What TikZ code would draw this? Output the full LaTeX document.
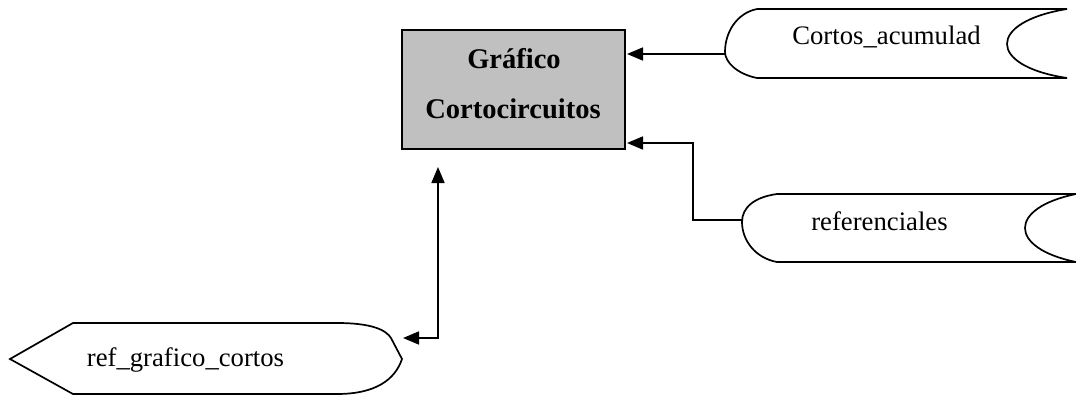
\documentclass[tikz,border=0pt]{standalone}
\usepackage{fontspec}
\setmainfont{Liberation Serif}
\usetikzlibrary{arrows.meta}
\begin{document}
\begin{tikzpicture}[x=1pt,y=-1pt,
  shp/.style={draw=black,line width=1.7pt,fill=white},
  conn/.style={draw=black,line width=1.7pt,-{Triangle[length=16pt,width=13pt]}},
  lbl/.style={font=\fontsize{26.7}{30}\selectfont,inner sep=0pt,anchor=base},
  blbl/.style={font=\fontsize{28.5}{32}\selectfont\bfseries,inner sep=0pt,anchor=base}]
\useasboundingbox (0,0) rectangle (1076,396);
% central process box
\node[draw=black,line width=2pt,fill={rgb,255:red,192;green,192;blue,192},
  minimum width=223pt,minimum height=119pt,inner sep=0pt] (proc) at (513.5,89.5) {};
\node[blbl] (t1) at (514,68) {Gráfico};
\node[blbl] (t2) at (513,118) {Cortocircuitos};
% Cortos_acumulad store
\path[shp] (757,9) -- (1067,9) .. controls (987,22) and (987,66) .. (1067,78)
  -- (757,78) .. controls (737,74) and (725,62) .. (725,52)
  .. controls (725,32) and (737,13) .. (757,9) -- cycle;
\coordinate (cA) at (725,54);
\node[lbl] (ca) at (886.5,45) {Cortos\_acumulad};
% referenciales store
\path[shp] (777,194) -- (1076,194) .. controls (1008,208) and (1008,248) .. (1076,262)
  -- (777,262) .. controls (755,258) and (742,240) .. (742,222)
  .. controls (742,207) and (755,197) .. (777,194) -- cycle;
\coordinate (rA) at (742,220);
\node[lbl] (rf) at (879.5,230) {referenciales};
% ref_grafico_cortos output
\path[shp] (73,323) -- (337,323) .. controls (372,323) and (386,330) .. (391,338)
  -- (402,359) .. controls (395,380) and (375,394) .. (337,394)
  -- (73,394) -- (10,359) -- cycle;
\coordinate (gA) at (438,338);
\node[lbl] (rg) at (185.5,366) {ref\_grafico\_cortos};
% connectors
\coordinate (p1) at (627,54);
\coordinate (p2) at (627,143);
\coordinate (p3) at (438,167);
\coordinate (p4) at (403,338);
\draw[conn] (cA) -- (p1);
\draw[conn] (rA) -| (693,143) -- (p2);
\draw[conn,{Triangle[length=16pt,width=13pt]}-{Triangle[length=16pt,width=13pt]}] (p4) -- (gA) -- (p3);
\end{tikzpicture}
\end{document}
